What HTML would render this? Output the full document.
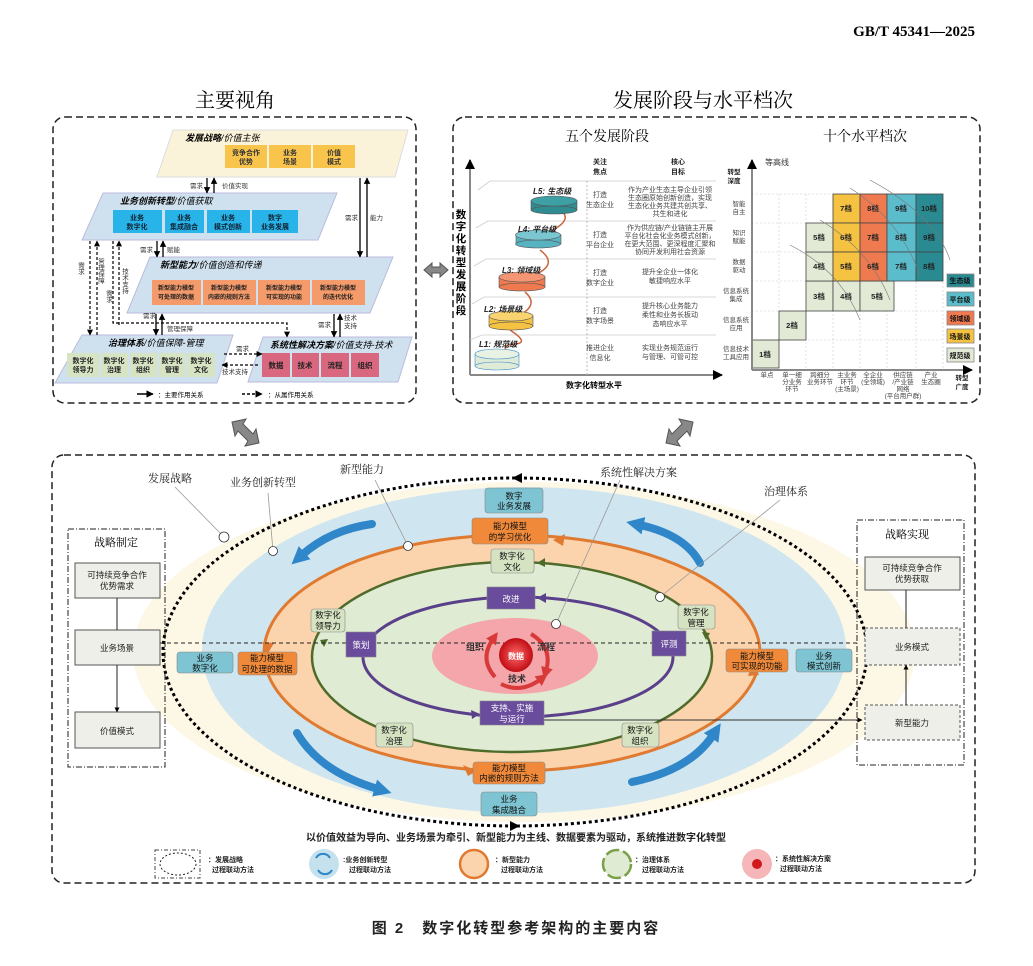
<!DOCTYPE html>
<html><head><meta charset="utf-8"><style>
html,body{margin:0;padding:0;background:#fff}
svg{display:block}
text{font-family:"Liberation Sans","Noto Sans CJK SC",sans-serif}
.s{font-family:"Liberation Serif","Noto Serif CJK SC",serif}
</style></head><body>
<svg width="1033" height="966" viewBox="0 0 1033 966" xmlns="http://www.w3.org/2000/svg">
<defs>
<marker id="a" viewBox="0 0 10 10" refX="9" refY="5" markerWidth="5" markerHeight="5" orient="auto"><path d="M0,0L10,5L0,10z" fill="#000"/></marker>
<marker id="ab" viewBox="0 0 10 10" refX="2" refY="5" markerWidth="2.2" markerHeight="2.2" orient="auto"><path d="M0,0L10,5L0,10z" fill="#2f86c8"/></marker>
<marker id="ar" viewBox="0 0 10 10" refX="3" refY="5" markerWidth="3" markerHeight="3" orient="auto"><path d="M0,0L10,5L0,10z" fill="#d83a3a"/></marker>
<radialGradient id="rd"><stop offset="0" stop-color="#ff6a6a"/><stop offset="1" stop-color="#c00d14"/></radialGradient>
</defs>

<text x="975" y="36" text-anchor="end" class="s" font-size="15" font-weight="bold">GB/T 45341—2025</text>
<text x="235" y="107" text-anchor="middle" class="s" font-size="20">主要视角</text>
<text x="703" y="107" text-anchor="middle" class="s" font-size="20">发展阶段与水平档次</text>

<rect x="53" y="117" width="363" height="286" rx="12" fill="none" stroke="#222" stroke-width="1.5" stroke-dasharray="7 4"/>
<rect x="453" y="117" width="527" height="286" rx="12" fill="none" stroke="#222" stroke-width="1.5" stroke-dasharray="7 4"/>
<rect x="52" y="455" width="923" height="428" rx="12" fill="none" stroke="#222" stroke-width="1.5" stroke-dasharray="7 4"/>

<path d="M424,270 l8,-7 v4 h8 v-4 l8,7 l-8,7 v-4 h-8 v4z" fill="#888" stroke="#555"/>
<path d="M232,422 l14,-3 l-3,5 l10,10 l3,-5 l3,14 l-14,3 l3,-5 l-10,-10 l-3,5z" fill="#888" stroke="#555"/>
<path d="M693,422 l-14,-3 l3,5 l-10,10 l-3,-5 l-3,14 l14,3 l-3,-5 l10,-10 l3,5z" fill="#888" stroke="#555"/>

<!-- ============ TOP LEFT ============ -->
<g font-size="8">
<polygon points="173,130 408,130 395,177 157,177" fill="#fbf2da" stroke="#ddd"/>
<text x="185" y="141" font-size="9" font-style="italic" font-weight="bold">发展战略<tspan font-weight="normal">/价值主张</tspan></text>
<rect x="225" y="145" width="42" height="23" fill="#f8c44c"/><rect x="269" y="145" width="42" height="23" fill="#f8c44c"/><rect x="313" y="145" width="42" height="23" fill="#f8c44c"/>
<g text-anchor="middle" font-size="7" font-weight="bold" fill="#333"><text x="246" y="155">竞争合作</text><text x="246" y="164">优势</text><text x="290" y="155">业务</text><text x="290" y="164">场景</text><text x="334" y="155">价值</text><text x="334" y="164">模式</text></g>

<polygon points="103,193 337,193 318,240 82,240" fill="#cfe0ee" stroke="#bbd"/>
<text x="120" y="204" font-size="9" font-style="italic" font-weight="bold">业务创新转型<tspan font-weight="normal">/价值获取</tspan></text>
<g fill="#28b4e8"><rect x="113" y="210" width="49" height="23"/><rect x="165" y="210" width="39" height="23"/><rect x="207" y="210" width="43" height="23"/><rect x="252" y="210" width="46" height="23"/></g>
<g text-anchor="middle" font-size="7" font-weight="bold" fill="#123"><text x="137" y="220">业务</text><text x="137" y="229">数字化</text><text x="184" y="220">业务</text><text x="184" y="229">集成融合</text><text x="228" y="220">业务</text><text x="228" y="229">模式创新</text><text x="275" y="220">数字</text><text x="275" y="229">业务发展</text></g>

<polygon points="150,257 393,257 370,313 127,313" fill="#cfe0ee" stroke="#bbd"/>
<text x="160" y="268" font-size="9" font-style="italic" font-weight="bold">新型能力<tspan font-weight="normal">/价值创造和传递</tspan></text>
<g fill="#f59a6a"><rect x="152" y="280" width="49" height="25"/><rect x="203" y="280" width="53" height="25"/><rect x="258" y="280" width="52" height="25"/><rect x="312" y="280" width="53" height="25"/></g>
<g text-anchor="middle" font-size="6" font-weight="bold" fill="#222"><text x="176" y="290">新型能力模型</text><text x="176" y="299">可处理的数据</text><text x="229" y="290">新型能力模型</text><text x="229" y="299">内嵌的规则方法</text><text x="284" y="290">新型能力模型</text><text x="284" y="299">可实现的功能</text><text x="338" y="290">新型能力模型</text><text x="338" y="299">的迭代优化</text></g>

<polygon points="82,335 233,335 217,383 55,383" fill="#cfe0ee" stroke="#bbd"/>
<text x="108" y="346" font-size="9" font-style="italic" font-weight="bold">治理体系<tspan font-weight="normal">/价值保障-管理</tspan></text>
<g fill="#d7e4c4"><rect x="67" y="353" width="32" height="24"/><rect x="101" y="353" width="27" height="24"/><rect x="130" y="353" width="27" height="24"/><rect x="159" y="353" width="26" height="24"/><rect x="187" y="353" width="28" height="24"/></g>
<g text-anchor="middle" font-size="7" font-weight="bold" fill="#222"><text x="83" y="363">数字化</text><text x="83" y="372">领导力</text><text x="114" y="363">数字化</text><text x="114" y="372">治理</text><text x="143" y="363">数字化</text><text x="143" y="372">组织</text><text x="172" y="363">数字化</text><text x="172" y="372">管理</text><text x="201" y="363">数字化</text><text x="201" y="372">文化</text></g>

<polygon points="263,337 412,337 398,382 248,382" fill="#cfe0ee" stroke="#bbd"/>
<text x="270" y="348" font-size="9" font-style="italic" font-weight="bold">系统性解决方案<tspan font-weight="normal">/价值支持-技术</tspan></text>
<g fill="#d9677f"><rect x="262" y="353" width="28" height="24"/><rect x="292" y="353" width="27" height="24"/><rect x="321" y="353" width="28" height="24"/><rect x="351" y="353" width="28" height="24"/></g>
<g text-anchor="middle" font-size="7.5" font-weight="bold" fill="#222"><text x="276" y="368">数据</text><text x="305" y="368">技术</text><text x="335" y="368">流程</text><text x="365" y="368">组织</text></g>

<g stroke="#000" stroke-width="1.3" fill="none" marker-end="url(#a)">
<path d="M207,178V193"/><path d="M214,193V178"/>
<path d="M360,178V257"/><path d="M367,257V178"/>
<path d="M157,241V257"/><path d="M163,257V241"/>
<path d="M156,314V335"/><path d="M162,335V314"/>
<path d="M334,314V337"/><path d="M340,337V314"/>
</g>
<g stroke="#000" stroke-width="1.2" fill="none" stroke-dasharray="3 2" marker-end="url(#a)">
<path d="M90,241V335"/><path d="M97,335V241"/>
<path d="M119,325V241"/>
<path d="M113,241V323H287V337"/>
<path d="M224,354H262"/><path d="M258,365H222"/>
</g>
<g font-size="6.5" fill="#333">
<text x="190" y="188">需求</text><text x="222" y="188">价值实现</text>
<text x="345" y="220">需求</text><text x="370" y="220">能力</text>
<text x="140" y="252">需求</text><text x="167" y="252">赋能</text>
<text x="143" y="318">需求</text><text x="167" y="331">管理保障</text>
<text x="318" y="327">需求</text><text x="344" y="320">技术</text><text x="344" y="328">支持</text>
<text x="236" y="351">需求</text><text x="222" y="374">技术支持</text>
<text x="80" y="262" writing-mode="tb">需求</text>
<text x="100" y="258" writing-mode="tb">管理保障</text>
<text x="124" y="268" writing-mode="tb">技术支持</text>
<text x="108" y="290" writing-mode="tb">需求</text>
</g>
<path d="M137,394H153" stroke="#000" stroke-width="1.5" marker-end="url(#a)"/>
<text x="158" y="397" font-size="6.5">：主要作用关系</text>
<path d="M242,394H262" stroke="#000" stroke-width="1.5" stroke-dasharray="3 2" marker-end="url(#a)"/>
<text x="268" y="397" font-size="6.5">：从属作用关系</text>
</g>

<!-- ============ TOP RIGHT ============ -->
<text x="607" y="141" text-anchor="middle" class="s" font-size="14">五个发展阶段</text>
<text x="865" y="141" text-anchor="middle" class="s" font-size="14">十个水平档次</text>
<path d="M470,375V160" stroke="#888" stroke-width="2" marker-end="url(#a)"/>
<path d="M470,375H722" stroke="#888" stroke-width="2" marker-end="url(#a)"/>
<text x="594" y="388" text-anchor="middle" font-size="8" font-weight="bold">数字化转型水平</text>
<g font-size="10.5" font-weight="bold" text-anchor="middle">
<text x="461" y="218">数</text><text x="461" y="230">字</text><text x="461" y="242">化</text><text x="461" y="254">转</text><text x="461" y="266">型</text><text x="461" y="278">发</text><text x="461" y="290">展</text><text x="461" y="302">阶</text><text x="461" y="314">段</text>
</g>
<g stroke="#ccc" stroke-width="0.8" fill="none">
<path d="M478,190L490,181H716M476,228L488,221H716M474,266L486,259H716M472,304L484,297H716M470,340L482,335H716"/>
</g>
<path d="M587,181V375" stroke="#bbb" stroke-dasharray="2 2"/>
<g fill="none" stroke="#c8663e" stroke-width="1.5">
<path d="M508,352 Q500,345 515,344 Q530,343 510,330"/><path d="M518,316 Q540,305 525,292"/><path d="M532,276 Q560,265 540,250"/><path d="M547,233 Q575,220 560,210"/>
</g>
<g stroke="#555" stroke-width="0.6">
<rect x="531" y="201" width="46" height="9" fill="#2f8c90"/><ellipse cx="554" cy="210" rx="23" ry="4" fill="#2f8c90"/><ellipse cx="554" cy="201" rx="23" ry="5" fill="#3da0a5"/>
<rect x="516" y="235" width="45" height="9" fill="#58b3c0"/><ellipse cx="538" cy="244" rx="22.5" ry="4" fill="#58b3c0"/><ellipse cx="538" cy="235" rx="22.5" ry="5" fill="#7ac7d2"/>
<rect x="499" y="277" width="46" height="10" fill="#ef7a50"/><ellipse cx="522" cy="287" rx="23" ry="4" fill="#ef7a50"/><ellipse cx="522" cy="277" rx="23" ry="5" fill="#f49673"/>
<rect x="489" y="316" width="44" height="10" fill="#f5c242"/><ellipse cx="511" cy="326" rx="22" ry="4" fill="#f5c242"/><ellipse cx="511" cy="316" rx="22" ry="5" fill="#f8d370"/>
<rect x="475" y="354" width="44" height="12" fill="#dfead7" stroke="#3a8fd0"/><ellipse cx="497" cy="366" rx="22" ry="4" fill="#dfead7" stroke="#3a8fd0"/><ellipse cx="497" cy="354" rx="22" ry="5" fill="#e9f1e2" stroke="#3a8fd0"/>
</g>
<g font-size="8" font-style="italic" font-weight="bold" fill="#222">
<text x="533" y="194">L5: 生态级</text><text x="518" y="232">L4: 平台级</text><text x="502" y="273">L3: 领域级</text><text x="484" y="312">L2: 场景级</text><text x="479" y="347">L1: 规范级</text>
</g>
<g font-size="7" fill="#444" text-anchor="middle">
<text x="600" y="164" font-weight="bold" fill="#222">关注</text><text x="600" y="174" font-weight="bold" fill="#222">焦点</text>
<text x="678" y="164" font-weight="bold" fill="#222">核心</text><text x="678" y="174" font-weight="bold" fill="#222">目标</text>
<text x="600" y="197">打造</text><text x="600" y="207">生态企业</text>
<text x="670" y="192">作为产业生态主导企业引领</text><text x="670" y="200">生态圈原始创新创造，实现</text><text x="670" y="208">生态化业务共建共创共享、</text><text x="670" y="216">共生和进化</text>
<text x="600" y="237">打造</text><text x="600" y="247">平台企业</text>
<text x="670" y="230">作为供应链/产业链链主开展</text><text x="670" y="238">平台化社会化业务模式创新，</text><text x="670" y="246">在更大范围、更深程度汇聚和</text><text x="670" y="254">协同开发利用社会资源</text>
<text x="600" y="275">打造</text><text x="600" y="285">数字企业</text>
<text x="670" y="274">提升全企业一体化</text><text x="670" y="283">敏捷响应水平</text>
<text x="600" y="313">打造</text><text x="600" y="323">数字场景</text>
<text x="670" y="308">提升核心业务能力</text><text x="670" y="317">柔性和业务长板动</text><text x="670" y="326">态响应水平</text>
<text x="600" y="350">推进企业</text><text x="600" y="360">信息化</text>
<text x="670" y="350">实现业务规范运行</text><text x="670" y="359">与管理、可管可控</text>
</g>

<g stroke="#ccc" stroke-dasharray="2 2" stroke-width="0.6">
<path d="M752,194H943M752,223H943M752,252H943M752,281H943M752,311H943M752,340H943"/>
<path d="M779,194V370M806,194V370M833,194V370M860,194V370M887,194V370M916,194V370M943,194V370"/>
</g>
<g stroke="#444" stroke-width="0.8">
<rect x="752" y="340" width="27" height="28" fill="#e2ead6"/>
<rect x="779" y="311" width="27" height="29" fill="#e2ead6"/>
<rect x="806" y="281" width="27" height="30" fill="#e2ead6"/>
<rect x="833" y="281" width="27" height="30" fill="#e2ead6"/>
<rect x="860" y="281" width="34" height="30" fill="#e2ead6"/>
<rect x="806" y="252" width="27" height="29" fill="#e2ead6"/>
<rect x="806" y="223" width="27" height="29" fill="#e2ead6"/>
<rect x="833" y="194" width="27" height="29" fill="#f5c242"/><rect x="833" y="223" width="27" height="29" fill="#f5c242"/><rect x="833" y="252" width="27" height="29" fill="#f5c242"/>
<rect x="860" y="194" width="27" height="29" fill="#f07a50"/><rect x="860" y="223" width="27" height="29" fill="#f07a50"/><rect x="860" y="252" width="27" height="29" fill="#f07a50"/>
<rect x="887" y="194" width="29" height="29" fill="#5bbccc"/><rect x="887" y="223" width="29" height="29" fill="#5bbccc"/><rect x="887" y="252" width="29" height="29" fill="#5bbccc"/>
<rect x="916" y="194" width="27" height="29" fill="#2a8a92"/><rect x="916" y="223" width="27" height="29" fill="#2a8a92"/><rect x="916" y="252" width="27" height="29" fill="#2a8a92"/>
</g>
<g font-size="7.5" font-weight="bold" text-anchor="middle" fill="#222">
<text x="765" y="357">1档</text><text x="792" y="328">2档</text><text x="819" y="299">3档</text><text x="846" y="299">4档</text><text x="877" y="299">5档</text>
<text x="819" y="269">4档</text><text x="819" y="240">5档</text>
<text x="846" y="211">7档</text><text x="846" y="240">6档</text><text x="846" y="269">5档</text>
<text x="873" y="211">8档</text><text x="873" y="240">7档</text><text x="873" y="269">6档</text>
<text x="901" y="211">9档</text><text x="901" y="240">8档</text><text x="901" y="269">7档</text>
<text x="929" y="211">10档</text><text x="929" y="240">9档</text><text x="929" y="269">8档</text>
</g>
<g fill="none" stroke="#777" stroke-width="0.6">
<path d="M850,188 Q900,220 920,275"/><path d="M870,180 Q935,215 950,260"/><path d="M820,220 Q870,250 890,300"/><path d="M790,245 Q840,270 860,320"/>
</g>
<path d="M752,370V160" stroke="#888" stroke-width="2" marker-end="url(#a)"/>
<path d="M752,370H972" stroke="#888" stroke-width="2" marker-end="url(#a)"/>
<text x="765" y="165" font-size="8" fill="#333">等高线</text>
<g font-size="6.5" fill="#444" text-anchor="middle">
<text x="734" y="174" font-weight="bold" fill="#222">转型</text><text x="734" y="183" font-weight="bold" fill="#222">深度</text>
<text x="739" y="206">智能</text><text x="739" y="214">自主</text>
<text x="739" y="235">知识</text><text x="739" y="243">赋能</text>
<text x="739" y="264">数据</text><text x="739" y="272">驱动</text>
<text x="736" y="293">信息系统</text><text x="736" y="301">集成</text>
<text x="736" y="322">信息系统</text><text x="736" y="330">应用</text>
<text x="736" y="351">信息技术</text><text x="736" y="359">工具应用</text>
<text x="767" y="377">单点</text>
<text x="792" y="377">单一细</text><text x="792" y="384">分业务</text><text x="792" y="391">环节</text>
<text x="820" y="377">跨细分</text><text x="820" y="384">业务环节</text>
<text x="847" y="377">主业务</text><text x="847" y="384">环节</text><text x="847" y="391">(主场景)</text>
<text x="873" y="377">全企业</text><text x="873" y="384">(全领域)</text>
<text x="903" y="377">供应链</text><text x="903" y="384">/产业链</text><text x="903" y="391">网络</text><text x="903" y="398">(平台用户群)</text>
<text x="931" y="377">产业</text><text x="931" y="384">生态圈</text>
<text x="962" y="380" font-weight="bold" fill="#222">转型</text><text x="962" y="389" font-weight="bold" fill="#222">广度</text>
</g>
<g stroke="#888" stroke-width="0.8">
<rect x="947" y="274" width="27" height="13" fill="#2a8a92"/><rect x="947" y="292" width="27" height="14" fill="#5bbccc"/><rect x="947" y="311" width="27" height="14" fill="#f07a50"/><rect x="947" y="329" width="27" height="14" fill="#f5c242"/><rect x="947" y="348" width="27" height="14" fill="#e2ead6"/>
</g>
<g font-size="7" font-weight="bold" text-anchor="middle" fill="#111"><text x="960" y="283">生态级</text><text x="960" y="302">平台级</text><text x="960" y="321">领域级</text><text x="960" y="339">场景级</text><text x="960" y="358">规范级</text></g>

<!-- ============ BOTTOM ============ -->
<ellipse cx="524" cy="652" rx="391" ry="170" fill="#fdf7e6"/>
<ellipse cx="524" cy="650" rx="322" ry="163" fill="#cfe5ef"/>
<ellipse cx="512" cy="653" rx="248" ry="118" fill="#fbd4ad" stroke="#e07a30" stroke-width="3"/>
<ellipse cx="512" cy="657" rx="200" ry="95" fill="#e0ebd3" stroke="#4e6b2a" stroke-width="2.5"/>
<ellipse cx="518" cy="657" rx="155" ry="60" fill="none" stroke="#5a3f8a" stroke-width="3"/>
<ellipse cx="515" cy="656" rx="83" ry="38" fill="#f4a6ab"/>
<ellipse cx="515" cy="652" rx="352" ry="174" fill="none" stroke="#000" stroke-width="3" stroke-dasharray="3 3"/>
<path d="M522,473 l-10,5 l10,5z" fill="#000"/><path d="M510,821 l10,5 l-10,5z" fill="#000"/>

<path d="M553,540 l12,-6 l-2,12z" fill="#e07a30"/>
<path d="M262,642 l12,1 l-7,12z" fill="#e07a30"/>
<path d="M468,776 l-5,-11 l14,6z" fill="#e07a30"/>
<path d="M748,676 l5,-14 l6,13z" fill="#e07a30"/>
<path d="M537,563 l8,-5 v9z" fill="#4e6b2a"/><path d="M320,640 l8,-1 l-4,8z" fill="#4e6b2a"/><path d="M410,742 l-7,-6 l9,-2z" fill="#4e6b2a"/><path d="M706,640 l-4,-8 l8,1z" fill="#4e6b2a"/>
<path d="M537,598 l9,-5 v10z" fill="#5a3f8a"/><path d="M362,642 l7,2 l-6,6z" fill="#5a3f8a"/><path d="M480,714 l-9,-4 l1,9z" fill="#5a3f8a"/><path d="M672,644 l-7,2 l6,-9z" fill="#5a3f8a"/>

<g fill="none" stroke="#2f86c8" stroke-width="8" stroke-linecap="round" marker-end="url(#ab)">
<path d="M372,524 Q330,530 302,555"/>
<path d="M700,563 Q685,535 640,525"/>
<path d="M297,733 Q320,772 378,789"/>
<path d="M632,782 Q690,770 713,735"/>
</g>

<path d="M160,643H860" stroke="#222" stroke-dasharray="4 3" fill="none"/>
<path d="M544,720H862" stroke="#333" fill="none" marker-end="url(#a)"/>

<circle cx="516" cy="655" r="17" fill="url(#rd)"/>
<text x="516" y="659" text-anchor="middle" font-size="8" fill="#fff" font-weight="bold">数据</text>
<g fill="none" stroke="#d83a3a" stroke-width="4" marker-end="url(#ar)">
<path d="M495,677 Q479,659 493,639"/><path d="M531,634 Q553,647 546,671"/><path d="M501,684 Q521,694 541,679"/>
</g>
<g font-size="9" font-weight="bold" fill="#333"><text x="466" y="650">组织</text><text x="537" y="650">流程</text><text x="508" y="682">技术</text></g>

<g stroke="#888" stroke-width="0.6">
<rect x="485" y="488" width="58" height="25" rx="3" fill="#7ec4d2"/>
<rect x="472" y="518" width="76" height="26" rx="3" fill="#f08a3a"/>
<rect x="491" y="549" width="43" height="24" rx="3" fill="#d5e3c2"/>
<rect x="487" y="587" width="48" height="22" fill="#6a4c9c"/>
<rect x="311" y="609" width="34" height="23" rx="3" fill="#d5e3c2"/>
<rect x="678" y="605" width="37" height="24" rx="3" fill="#d5e3c2"/>
<rect x="346" y="632" width="30" height="25" fill="#6a4c9c"/>
<rect x="652" y="631" width="34" height="25" fill="#6a4c9c"/>
<rect x="177" y="652" width="56" height="21" rx="3" fill="#7ec4d2"/>
<rect x="238" y="652" width="59" height="23" rx="3" fill="#f08a3a"/>
<rect x="726" y="649" width="62" height="23" rx="3" fill="#f08a3a"/>
<rect x="796" y="649" width="56" height="23" rx="3" fill="#7ec4d2"/>
<rect x="480" y="701" width="64" height="24" fill="#6a4c9c"/>
<rect x="376" y="723" width="37" height="24" rx="3" fill="#d5e3c2"/>
<rect x="622" y="723" width="37" height="24" rx="3" fill="#d5e3c2"/>
<rect x="473" y="762" width="72" height="22" rx="3" fill="#f08a3a"/>
<rect x="481" y="792" width="56" height="24" rx="3" fill="#7ec4d2"/>
</g>
<g font-size="8.5" text-anchor="middle" fill="#111">
<text x="514" y="499">数字</text><text x="514" y="509">业务发展</text>
<text x="510" y="529">能力模型</text><text x="510" y="540">的学习优化</text>
<text x="512" y="559">数字化</text><text x="512" y="570">文化</text>
<text x="511" y="602" fill="#fff">改进</text>
<text x="328" y="618">数字化</text><text x="328" y="629">领导力</text>
<text x="696" y="615">数字化</text><text x="696" y="626">管理</text>
<text x="361" y="648" fill="#fff">策划</text><text x="669" y="647" fill="#fff">评测</text>
<text x="205" y="661">业务</text><text x="205" y="671">数字化</text>
<text x="267" y="661">能力模型</text><text x="267" y="672">可处理的数据</text>
<text x="757" y="659">能力模型</text><text x="757" y="669">可实现的功能</text>
<text x="824" y="659">业务</text><text x="824" y="669">模式创新</text>
<text x="512" y="711" fill="#fff">支持、实施</text><text x="512" y="722" fill="#fff">与运行</text>
<text x="394" y="733">数字化</text><text x="394" y="744">治理</text>
<text x="640" y="733">数字化</text><text x="640" y="744">组织</text>
<text x="509" y="771">能力模型</text><text x="509" y="781">内嵌的规则方法</text>
<text x="509" y="802">业务</text><text x="509" y="813">集成融合</text>
</g>

<g stroke="#999" stroke-width="0.8" fill="none">
<path d="M175,487L224,537M268,493L273,551M375,480L408,546M620,480L556,624M780,500L660,597"/>
</g>
<g fill="#fff" stroke="#333" stroke-width="0.8">
<circle cx="224" cy="537" r="5"/><circle cx="273" cy="551" r="4.5"/><circle cx="408" cy="546" r="4.5"/><circle cx="556" cy="624" r="4.5"/><circle cx="660" cy="597" r="4.5"/>
</g>
<g font-size="11" fill="#222">
<text x="148" y="482" class="s">发展战略</text><text x="230" y="486" class="s">业务创新转型</text><text x="340" y="473" class="s">新型能力</text><text x="600" y="476" class="s">系统性解决方案</text><text x="764" y="495" class="s">治理体系</text>
</g>

<rect x="68" y="529" width="97" height="238" fill="none" stroke="#222" stroke-dasharray="6 2 1 2"/>
<text x="116" y="546" text-anchor="middle" class="s" font-size="11">战略制定</text>
<g fill="#eeefe8" stroke="#555">
<rect x="75" y="563" width="85" height="35"/><rect x="75" y="630" width="85" height="35"/><rect x="75" y="712" width="85" height="36"/>
</g>
<path d="M117,598V630M117,665V712" stroke="#222" marker-end="url(#a)"/>
<g font-size="8.5" text-anchor="middle" fill="#222"><text x="117" y="578">可持续竞争合作</text><text x="117" y="589">优势需求</text><text x="117" y="651">业务场景</text><text x="117" y="734">价值模式</text></g>

<rect x="857" y="520" width="107" height="245" fill="none" stroke="#222" stroke-dasharray="6 2 1 2"/>
<text x="907" y="538" text-anchor="middle" class="s" font-size="11">战略实现</text>
<rect x="865" y="557" width="95" height="33" fill="#eeefe8" stroke="#555"/>
<rect x="865" y="628" width="95" height="37" fill="#eeefe8" stroke="#555" stroke-dasharray="3 2"/>
<rect x="865" y="705" width="95" height="35" fill="#eeefe8" stroke="#555" stroke-dasharray="3 2"/>
<path d="M906,628V590M906,705V665" stroke="#222" marker-end="url(#a)"/>
<g font-size="8.5" text-anchor="middle" fill="#222"><text x="912" y="571">可持续竞争合作</text><text x="912" y="582">优势获取</text><text x="912" y="650">业务模式</text><text x="912" y="726">新型能力</text></g>

<text x="516" y="841" text-anchor="middle" font-size="10" font-weight="bold" fill="#222">以价值效益为导向、业务场景为牵引、新型能力为主线、数据要素为驱动，系统推进数字化转型</text>
<rect x="155" y="850" width="45" height="28" fill="none" stroke="#444" stroke-dasharray="4 2 1 2"/>
<ellipse cx="178" cy="864" rx="18" ry="11" fill="none" stroke="#222" stroke-dasharray="2 2"/>
<circle cx="324" cy="864" r="15" fill="#c5e1ee"/>
<circle cx="474" cy="864" r="14" fill="#fbd4ad" stroke="#e07a30" stroke-width="2.5"/>
<circle cx="617" cy="864" r="14" fill="#e0ebd3" stroke="#7aa04a" stroke-width="2.5" stroke-dasharray="14 4"/>
<circle cx="757" cy="864" r="15" fill="#f6b6b9"/><circle cx="757" cy="864" r="5" fill="#d0181e"/>
<path d="M316,858 a8,8 0 0 1 14,0M332,870 a8,8 0 0 1 -14,0" stroke="#2f86c8" stroke-width="2" fill="none"/>
<g font-size="7" font-weight="bold" fill="#222">
<text x="208" y="862">：发展战略</text><text x="212" y="872">过程联动方法</text>
<text x="343" y="862">:业务创新转型</text><text x="349" y="872">过程联动方法</text>
<text x="495" y="862">：新型能力</text><text x="501" y="872">过程联动方法</text>
<text x="635" y="862">：治理体系</text><text x="642" y="872">过程联动方法</text>
<text x="775" y="861">：系统性解决方案</text><text x="780" y="871">过程联动方法</text>
</g>

<text x="516" y="933" text-anchor="middle" font-size="15" font-weight="bold" letter-spacing="2" fill="#222">图 2　数字化转型参考架构的主要内容</text>
</svg>
</body></html>
